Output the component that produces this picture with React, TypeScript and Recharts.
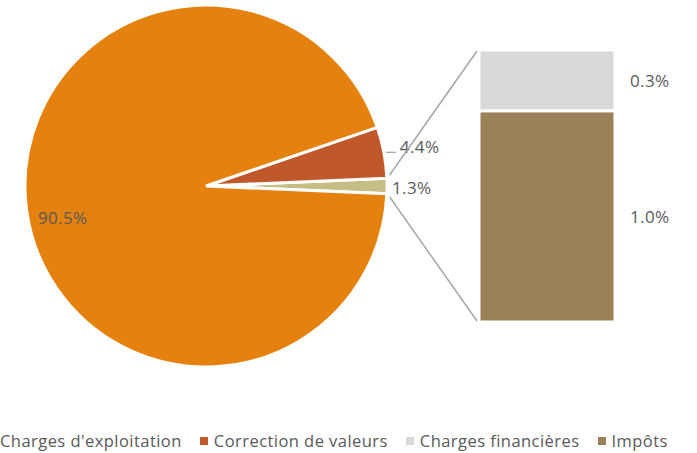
import React from "react";
import {
  PieChart,
  Pie,
  Cell,
  BarChart,
  Bar,
  XAxis,
  YAxis,
  LabelList,
} from "recharts";

// pie slices (the last one is broken out into the bar)
const pieNames = ["Autres charges", "Correction de valeurs", "Charges d'exploitation"];
const pieValues = [1.3, 4.4, 90.5];
const pieColors = ["#C6BD85", "#C0582C", "#E5820F"];

// stacked bar (bottom to top)
const barNames = ["Impôts", "Charges financières"];
const barValues = [1.01, 0.29];
const barColors = ["#9B8157", "#D9D9D9"];

const legendNames = ["Charges d'exploitation", "Correction de valeurs", "Charges financières", "Impôts"];
const legendColors = ["#E5820F", "#C0582C", "#D9D9D9", "#9B8157"];

const W = 697;
const H = 453;
const CX = 206;
const CY = 186;
const R = 181;
const BAR_M = { top: 50, bottom: 131, left: 479, right: 82 };

const FONT = "'Open Sans', sans-serif";
const TXT = "#595959";

const pieTotal = pieValues.reduce((a, b) => a + b, 0);
const startAngle = -((pieValues[0] / pieTotal) * 360) / 2;

const pieData = pieNames.map((name, i) => ({ name, value: pieValues[i] }));
const barRow: Record<string, any> = { name: "split" };
barNames.forEach((n, i) => (barRow[n] = barValues[i]));
const barData = [barRow];

const RAD = Math.PI / 180;
const polar = (r: number, a: number) => [CX + r * Math.cos(a * RAD), CY - r * Math.sin(a * RAD)];

const pieLabel = (props: any) => {
  const { midAngle, index, value } = props;
  const text = `${value.toFixed(1)}%`;
  const style = { fontFamily: FONT, fontSize: 17, fill: TXT, letterSpacing: 0.4 };
  if (index === 2) {
    const [x, y] = polar(R * 0.81, midAngle + 4);
    return (
      <text x={x} y={y} textAnchor="middle" dominantBaseline="central" style={style}>
        {text}
      </text>
    );
  }
  if (index === 1) {
    const [x, y] = polar(R + 1, midAngle);
    return (
      <g>
        <line x1={x + 1} y1={y} x2={x + 11} y2={y} stroke="#A6A6A6" strokeWidth={1.3} />
        <text x={x + 15} y={y - 6} textAnchor="start" dominantBaseline="central" style={style}>
          {text}
        </text>
      </g>
    );
  }
  const [x, y] = polar(R, midAngle);
  return (
    <text x={x + 5} y={y + 1} textAnchor="start" dominantBaseline="central" style={style}>
      {text}
    </text>
  );
};

const barLabel = (props: any) => {
  const { x, y, width, height, value } = props;
  return (
    <text
      x={x + width + 15}
      y={y + height / 2}
      textAnchor="start"
      dominantBaseline="central"
      style={{ fontFamily: FONT, fontSize: 17, fill: TXT, letterSpacing: 0.4 }}
    >
      {`${Number(value).toFixed(1)}%`}
    </text>
  );
};

const Connectors = () => {
  const half = ((pieValues[0] / pieTotal) * 360) / 2;
  const [x1, y1] = polar(R + 3, half + 1);
  const [x2, y2] = polar(R + 3, -half - 1);
  const bx = BAR_M.left - 2;
  return (
    <svg width={W} height={H} style={{ position: "absolute", left: 0, top: 0, pointerEvents: "none" }}>
      <line x1={x1} y1={y1} x2={bx} y2={BAR_M.top + 1} stroke="#A6A6A6" strokeWidth={1.5} />
      <line x1={x2} y1={y2} x2={bx} y2={H - BAR_M.bottom - 1} stroke="#A6A6A6" strokeWidth={1.5} />
    </svg>
  );
};

const LegendRow = () => (
  <div
    style={{
      position: "absolute",
      left: -14,
      top: 429,
      display: "flex",
      alignItems: "center",
      whiteSpace: "nowrap",
      fontFamily: FONT,
      fontSize: 16.5,
      letterSpacing: 0.45,
      color: TXT,
    }}
  >
    {legendNames.map((n, i) => (
      <div key={n} style={{ display: "flex", alignItems: "center", marginRight: 18 }}>
        <span style={{ width: 8, height: 8, background: legendColors[i], marginRight: 6, display: "inline-block" }} />
        <span>{n}</span>
      </div>
    ))}
  </div>
);

export default function App() {
  return (
    <div style={{ position: "absolute", left: 0, top: 0, width: W, height: H, overflow: "hidden", background: "#fff" }}>
      <div style={{ position: "absolute", left: 0, top: 0 }}>
        <PieChart width={W} height={H} margin={{ top: 0, right: 0, bottom: 0, left: 0 }}>
          <Pie
            data={pieData}
            dataKey="value"
            cx={CX}
            cy={CY}
            outerRadius={R}
            startAngle={startAngle}
            endAngle={startAngle + 360}
            stroke="#fff"
            strokeWidth={3}
            label={pieLabel}
            labelLine={false}
            isAnimationActive={false}
          >
            {pieData.map((d, i) => (
              <Cell key={d.name} fill={pieColors[i]} />
            ))}
          </Pie>
        </PieChart>
      </div>
      <div style={{ position: "absolute", left: 0, top: 0 }}>
        <BarChart width={W} height={H} data={barData} margin={BAR_M} barCategoryGap={0}>
          <XAxis dataKey="name" hide />
          <YAxis hide domain={[0, 1.3]} />
          {barNames.map((n, i) => (
            <Bar key={n} dataKey={n} stackId="a" fill={barColors[i]} stroke="#fff" strokeWidth={3} isAnimationActive={false}>
              <LabelList dataKey={n} content={barLabel} />
            </Bar>
          ))}
        </BarChart>
      </div>
      <Connectors />
      <LegendRow />
    </div>
  );
}
